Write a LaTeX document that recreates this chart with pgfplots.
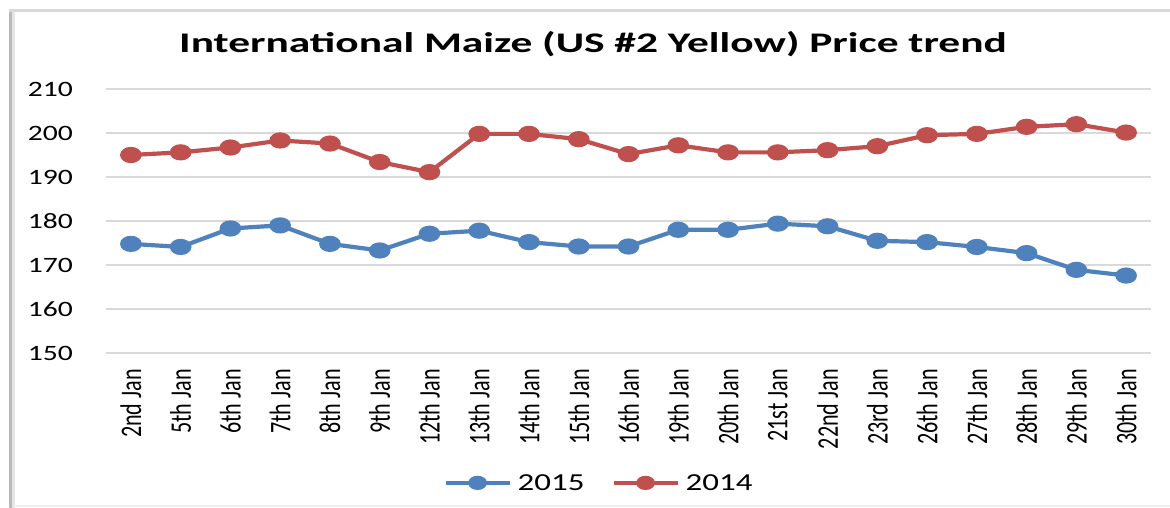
\documentclass[border=0pt]{standalone}
\usepackage{fontspec}
\usepackage{pgfplots}
\pgfplotsset{compat=1.18}
\newfontfamily\tickfont{Carlito}[FakeStretch=1.35]
\newfontfamily\rotfont{Carlito}[FakeStretch=0.74]
\newfontfamily\titlefont{Carlito}[FakeStretch=1.53]
\definecolor{cblue}{RGB}{79,129,189}
\definecolor{cred}{RGB}{192,80,77}
\definecolor{cgrid}{RGB}{217,217,217}
\begin{document}
\begin{tikzpicture}[x=1bp,y=1bp]
\useasboundingbox (0,0) rectangle (1170,508);
% frame
\draw[gray!55, line width=3bp] (10,0) -- (10,498);
\draw[gray!20, line width=3bp] (13.5,0) -- (13.5,496);
\draw[gray!30, line width=2.5bp] (9,497.5) -- (1170,497.5);
\draw[gray!12, line width=2bp] (14,2) -- (1170,2);
\node[font=\titlefont\bfseries\fontsize{28.5}{28.5}\selectfont, anchor=base, inner sep=0pt] at (593,455) {International Maize (US \#2 Yellow) Price trend};
\begin{axis}[
  at={(106bp,155bp)}, anchor=south west,
  scale only axis, width=1045bp, height=264bp,
  xmin=-0.5, xmax=20.5, ymin=150, ymax=210,
  ytick={150,160,...,210},
  xtick={0,...,20},
  xticklabels={2nd Jan,5th Jan,6th Jan,7th Jan,8th Jan,9th Jan,12th Jan,13th Jan,14th Jan,15th Jan,16th Jan,19th Jan,20th Jan,21st Jan,22nd Jan,23rd Jan,26th Jan,27th Jan,28th Jan,29th Jan,30th Jan},
  ymajorgrids,
  grid style={cgrid, line width=1.3bp},
  axis line style={draw=none},
  major tick style={draw=none},
  /pgf/number format/assume math mode=true,
  yticklabel style={font=\tickfont\fontsize{22}{22}\selectfont, anchor=east, inner sep=0pt},
  yticklabel shift={33bp},
  xticklabel style={font=\rotfont\fontsize{30}{30}\selectfont, rotate=90, anchor=east, inner sep=0pt},
  xticklabel shift={16bp},
  clip=false,
  legend columns=2,
  legend style={at={(0.4708,-0.492)}, anchor=center, draw=none, fill=none,
    font=\tickfont\fontsize{24.5}{24.5}\selectfont,
    nodes={inner sep=0pt},
    /tikz/every odd column/.append style={column sep=6bp},
    /tikz/every even column/.append style={column sep=27bp}},
  legend image code/.code={\draw[mark repeat=2, mark phase=2, #1, mark size=5bp] plot coordinates {(0bp,0bp)(32bp,0bp)(64bp,0bp)};},
]
\addplot[cblue, line width=4.2bp, mark=*, mark size=6bp, mark options={solid, xscale=1.45}] coordinates {
(0,174.8)(1,174.1)(2,178.3)(3,179.0)(4,174.8)(5,173.3)(6,177.1)(7,177.8)(8,175.2)(9,174.2)(10,174.2)(11,178.0)(12,178.0)(13,179.4)(14,178.8)(15,175.5)(16,175.2)(17,174.1)(18,172.7)(19,168.9)(20,167.6)};
\addlegendentry{2015}
\addplot[cred, line width=4.2bp, mark=*, mark size=6bp, mark options={solid, xscale=1.45}] coordinates {
(0,195.0)(1,195.6)(2,196.7)(3,198.3)(4,197.6)(5,193.4)(6,191.1)(7,199.8)(8,199.8)(9,198.6)(10,195.2)(11,197.2)(12,195.6)(13,195.6)(14,196.1)(15,197.0)(16,199.5)(17,199.8)(18,201.4)(19,202.0)(20,200.1)};
\addlegendentry{2014}
\end{axis}
\end{tikzpicture}
\end{document}
